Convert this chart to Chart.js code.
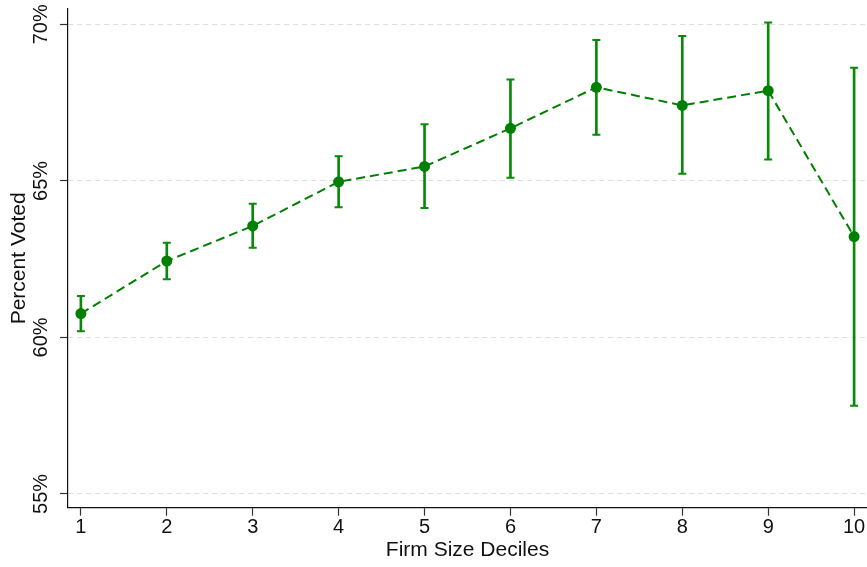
<!DOCTYPE html>
<html>
<head>
<meta charset="utf-8">
<script src="https://cdn.jsdelivr.net/npm/chart.js@4.4.1/dist/chart.umd.min.js"></script>
<style>
  html, body { margin: 0; padding: 0; background: #fff; }
  #wrap { width: 867px; height: 567px; }
</style>
</head>
<body>
<div id="wrap"><canvas id="myChart" width="867" height="567"></canvas></div>
<script>
// firm size deciles and share who voted (point estimate + 95% CI)
const deciles = [1, 2, 3, 4, 5, 6, 7, 8, 9, 10];
const voted = [60.76, 62.44, 63.56, 64.97, 65.46, 66.68, 67.99, 67.41, 67.88, 63.22];
const ciHigh = [61.32, 63.02, 64.27, 65.79, 66.81, 68.24, 69.50, 69.63, 70.06, 68.61];
const ciLow = [60.20, 61.86, 62.86, 64.16, 64.13, 65.10, 66.47, 65.23, 65.68, 57.82];
const yTicks = [55, 60, 65, 70];

const green = "#008000";
const font = "'Liberation Sans', Arial, sans-serif";

const pts = deciles.map((d, i) => ({ x: d, y: voted[i] }));
const bars = deciles.map((d, i) => ({ x: d, y: [ciLow[i], ciHigh[i]] }));
const capsHi = deciles.map((d, i) => ({ x: d, y: ciHigh[i] }));
const capsLo = deciles.map((d, i) => ({ x: d, y: ciLow[i] }));

const ctx = document.getElementById("myChart").getContext("2d");
new Chart(ctx, {
  type: "line",
  data: {
    datasets: [
      {
        label: "Percent Voted",
        data: pts,
        borderColor: green,
        borderWidth: 2,
        borderDash: [9, 5],
        pointRadius: 5.5,
        pointBackgroundColor: green,
        pointBorderWidth: 0,
        order: 0,
      },
      {
        type: "bar",
        label: "CI",
        data: bars,
        backgroundColor: "#0a880a",
        barThickness: 2,
        order: 2,
      },
      {
        label: "hi",
        data: capsHi,
        showLine: false,
        pointStyle: "line",
        pointRadius: 4,
        pointBorderWidth: 2,
        pointBorderColor: "#0a880a",
        order: 1,
      },
      {
        label: "lo",
        data: capsLo,
        showLine: false,
        pointStyle: "line",
        pointRadius: 4,
        pointBorderWidth: 2,
        pointBorderColor: "#0a880a",
        order: 1,
      },
    ],
  },
  options: {
    responsive: false,
    animation: false,
    devicePixelRatio: 1,
    layout: { autoPadding: false, padding: { top: 9, right: 0, left: 0, bottom: 0 } },
    plugins: {
      legend: { display: false },
      tooltip: { enabled: false },
    },
    scales: {
      x: {
        type: "linear",
        min: 0.85,
        max: 10.15,
        offset: false,
        afterBuildTicks: (scale) => {
          scale.ticks = deciles.map((v) => ({ value: v }));
        },
        afterFit: (scale) => {
          scale.height = 59.3;
          scale.paddingLeft = 0;
          scale.paddingRight = 0;
        },
        grid: {
          offset: false,
          drawOnChartArea: false,
          drawTicks: true,
          tickLength: 8,
          tickColor: "#333",
          tickWidth: 1.2,
        },
        border: { display: true, color: "#111", width: 1.2 },
        ticks: {
          padding: 0,
          color: "#111",
          font: { family: font, size: 20 },
          maxRotation: 0,
          autoSkip: false,
        },
        title: {
          display: true,
          text: "Firm Size Deciles",
          color: "#111",
          font: { family: font, size: 21 },
          padding: { top: 0, bottom: 4.3 },
        },
      },
      y: {
        type: "linear",
        min: 54.56,
        max: 70.49,
        afterBuildTicks: (scale) => {
          scale.ticks = yTicks.map((v) => ({ value: v }));
        },
        afterFit: (scale) => {
          scale.width = 68;
          scale.paddingTop = 0;
          scale.paddingBottom = 0;
        },
        grid: {
          color: "#dedede",
          lineWidth: 1,
          drawTicks: true,
          tickLength: 8,
          tickColor: "#333",
          tickWidth: 1.2,
          tickBorderDash: [],
        },
        border: { display: true, color: "#111", width: 1.2, dash: [5, 4] },
        ticks: {
          padding: -1.5,
          color: "#111",
          crossAlign: "center",
          minRotation: 90,
          maxRotation: 90,
          font: { family: font, size: 20 },
          callback: (v) => v + "%",
        },
        title: {
          display: true,
          text: "Percent Voted",
          color: "#111",
          font: { family: font, size: 21 },
          padding: { top: 7, bottom: 0 },
        },
      },
    },
  },
});
</script>
</body>
</html>
